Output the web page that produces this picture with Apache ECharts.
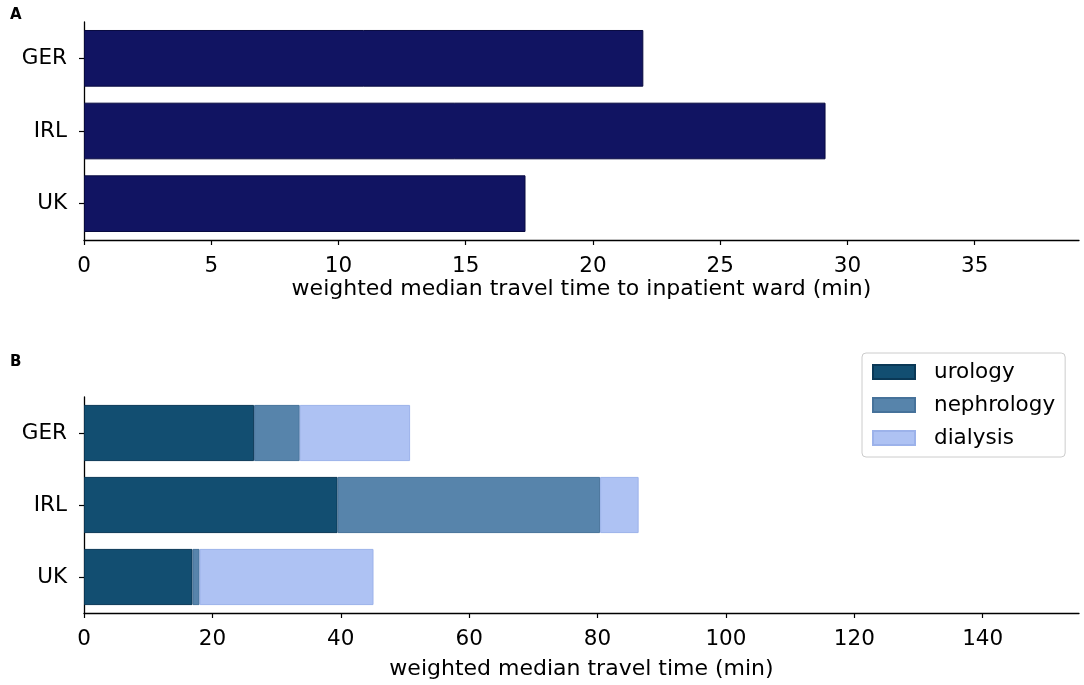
<!DOCTYPE html>
<html><head><meta charset="utf-8">
<script src="https://cdn.jsdelivr.net/npm/echarts@6/dist/echarts.min.js"></script>
<style>html,body{margin:0;padding:0;background:#fff}#c{width:1084px;height:685px}</style>
</head><body><div id="c"></div>
<script>
const countries = ['GER', 'IRL', 'UK'];
const inpatientWard = [21.98, 29.14, 17.35];
const urology = [26.5, 39.5, 16.9];
const nephrology = [7.1, 40.9, 1.1];
const dialysis = [17.2, 6.0, 27.1];
const ticksA = [0, 5, 10, 15, 20, 25, 30, 35];
const ticksB = [0, 20, 40, 60, 80, 100, 120, 140];

const FONT = 'DejaVu Sans';
const axisLine = {show: true, lineStyle: {color: '#000', width: 1.3}};
const tick = {show: true, length: 5, inside: false, lineStyle: {color: '#000', width: 1.2}};

function xAxis(gi, max, ticks, name, gap) {
  return {
    type: 'value', gridIndex: gi, min: 0, max: max,
    splitLine: {show: false}, axisLine: axisLine,
    axisTick: Object.assign({}, tick, {customValues: ticks}),
    axisLabel: {customValues: ticks, color: '#000', fontFamily: FONT, fontSize: 21.5, margin: 15},
    name: name, nameLocation: 'middle', nameGap: gap,
    nameTextStyle: {color: '#000', fontFamily: FONT, fontSize: 22}
  };
}
function yAxis(gi) {
  return {
    type: 'category', gridIndex: gi, data: countries, inverse: true,
    axisLine: axisLine, axisTick: Object.assign({}, tick, {alignWithLabel: true}),
    axisLabel: {color: '#000', fontFamily: FONT, fontSize: 21.5, margin: 17},
    splitLine: {show: false}
  };
}

const chart = echarts.init(document.getElementById('c'), null, {renderer: 'canvas'});
chart.setOption({
  animation: false,
  backgroundColor: '#fff',
  title: [
    {text: 'A', left: 10, top: 8, padding: 0, textStyle: {fontFamily: FONT, fontSize: 15, fontWeight: 'bold', color: '#000'}},
    {text: 'B', left: 10, top: 355, padding: 0, textStyle: {fontFamily: FONT, fontSize: 15, fontWeight: 'bold', color: '#000'}}
  ],
  grid: [
    {left: 84, right: 5, top: 22, height: 218},
    {left: 84, right: 5, top: 397, height: 216}
  ],
  xAxis: [
    xAxis(0, 39.1, ticksA, 'weighted median travel time to inpatient ward (min)', 38),
    xAxis(1, 155, ticksB, 'weighted median travel time (min)', 45)
  ],
  yAxis: [yAxis(0), yAxis(1)],
  legend: {
    data: ['urology', 'nephrology', 'dialysis'],
    orient: 'vertical', left: 862, top: 353,
    itemWidth: 42, itemHeight: 14, itemGap: 11,
    padding: [8, 10, 8, 10],
    borderColor: '#ccc', borderWidth: 1, borderRadius: 4,
    icon: 'rect',
    textStyle: {fontFamily: FONT, fontSize: 21.5, color: '#000', padding: [0, 0, 0, 14], lineHeight: 22}
  },
  series: [
    {type: 'bar', xAxisIndex: 0, yAxisIndex: 0, data: inpatientWard, barCategoryGap: '22%',
     itemStyle: {color: '#111462', borderColor: '#080a40', borderWidth: 1}},
    {type: 'bar', name: 'urology', stack: 'b', xAxisIndex: 1, yAxisIndex: 1, data: urology, barCategoryGap: '22%',
     itemStyle: {color: '#124e71', borderColor: '#0a3856', borderWidth: 1}},
    {type: 'bar', name: 'nephrology', stack: 'b', xAxisIndex: 1, yAxisIndex: 1, data: nephrology, barCategoryGap: '22%',
     itemStyle: {color: '#5784ab', borderColor: '#46729a', borderWidth: 1}},
    {type: 'bar', name: 'dialysis', stack: 'b', xAxisIndex: 1, yAxisIndex: 1, data: dialysis, barCategoryGap: '22%',
     itemStyle: {color: '#aec2f3', borderColor: '#9cb2ea', borderWidth: 1}}
  ]
});
</script></body></html>
